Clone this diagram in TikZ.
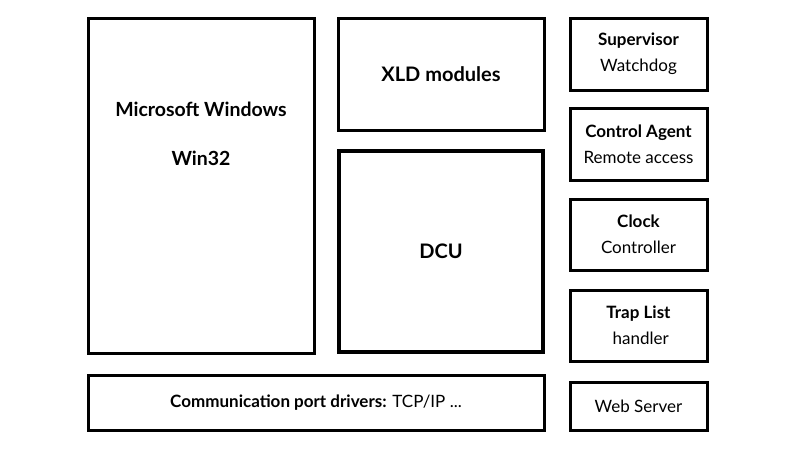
\documentclass[tikz,border=0pt]{standalone}
\usepackage{fontspec}
\setmainfont{Lato}
\usetikzlibrary{positioning}
\tikzset{
  blk/.style={draw, line width=3pt, inner sep=0pt, align=center},
  side/.style={blk, minimum width=137pt, font=\fontsize{17}{26}\selectfont},
}
\begin{document}
\begin{tikzpicture}[x=1pt,y=-1pt]
\useasboundingbox (0,0) rectangle (800,450);

\node[blk, minimum width=226pt, minimum height=335pt] (win) at (201,185.5) {};	% Windows
\node[font=\bfseries\fontsize{19.5}{24}\selectfont] (wint) at (201,109) {Microsoft Windows};
\node[font=\bfseries\fontsize{19.5}{24}\selectfont] (w32) at (201,158) {Win32};

\node[blk, minimum width=206pt, minimum height=112pt, font=\bfseries\fontsize{20}{24}\selectfont] (xld) at (441,74) {XLD modules};
\node[blk, line width=4pt, minimum width=204pt, minimum height=201pt, font=\bfseries\fontsize{20}{24}\selectfont] (dcu) at (441,251.5) {DCU};
\node[blk, minimum width=456pt, minimum height=55pt, font=\fontsize{17}{20}\selectfont] (comm) at (316,402.5) {\textbf{Communication port drivers:} TCP/IP ...};

% rechte Spalte
\node[side, minimum height=72pt] (sup) at (638.5,54) {\textbf{Supervisor}\\Watchdog};
\node[side, minimum height=72pt] (ctl) at (638.5,144) {\textbf{Control Agent}\\Remote access};
\node[side, minimum height=71pt] (clk) at (638.5,234.5) {\textbf{Clock}\\Controller};
\node[side, minimum height=71pt] (trap) at (638.5,325.5) {\textbf{Trap List}\\\ handler};
\node[side, minimum height=48pt] (web) at (638.5,406) {Web Server};
\end{tikzpicture}
\end{document}
